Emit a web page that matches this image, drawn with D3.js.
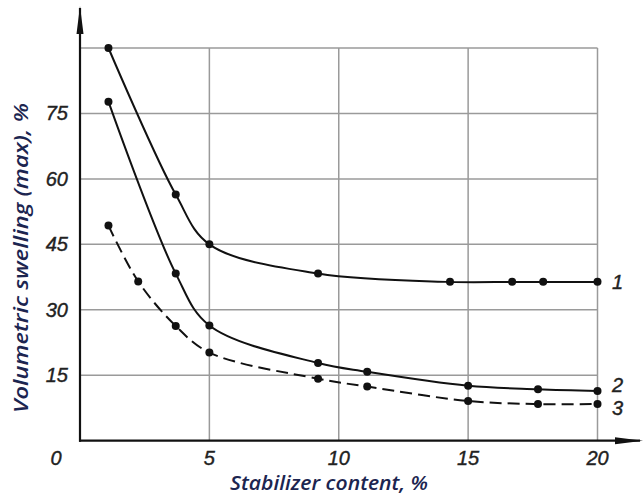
<!DOCTYPE html>
<html><head><meta charset="utf-8">
<script src="https://d3js.org/d3.v7.min.js"></script>
<style>body{margin:0;background:#fff}svg{display:block}</style>
</head><body>
<script>
const xTicks = [5, 10, 15, 20];
const yTicks = [15, 30, 45, 60, 75];
const yGrid = [15, 30, 45, 60, 75, 90];
const curve1 = [[1.1,90],[3.7,56.4],[5,45],[9.2,38.3],[14.3,36.4],[16.7,36.4],[17.9,36.4],[20,36.4]];
const curve2 = [[1.1,77.7],[3.7,38.3],[5,26.4],[9.2,17.8],[11.1,15.8],[15,12.6],[17.7,11.8],[20,11.4]];
const curve3 = [[1.1,49.3],[2.25,36.5],[3.7,26.3],[5,20.2],[9.2,14.2],[11.1,12.4],[15,9.1],[17.7,8.4],[20,8.4]];
const seriesLabels = ["1","2","3"];
const xTitle = "Stabilizer content, %";
const yTitle = "Volumetric swelling (max), %";

const W = 644, H = 497;
const svg = d3.select("body").append("svg").attr("width", W).attr("height", H);
const x = d3.scaleLinear().domain([0, 20]).range([80, 597.5]);
const y = d3.scaleLinear().domain([0, 90]).range([440.7, 48]);

// grid
const g = svg.append("g");
g.selectAll(".hg").data(yGrid).enter().append("line")
  .attr("x1", x(0)).attr("x2", x(20)).attr("y1", d => y(d)).attr("y2", d => y(d))
  .attr("stroke", "#9a9a9a").attr("stroke-width", 1.5);
g.selectAll(".vg").data(xTicks).enter().append("line")
  .attr("x1", d => x(d)).attr("x2", d => x(d)).attr("y1", y(0)).attr("y2", y(90))
  .attr("stroke", "#9a9a9a").attr("stroke-width", 1.5);

// axes
svg.append("line").attr("x1", x(0)).attr("x2", x(0)).attr("y1", y(0)+1).attr("y2", 8)
  .attr("stroke","#111").attr("stroke-width",2.2);
svg.append("path").attr("d", `M${x(0)-3.5},34 L${x(0)},6 L${x(0)+3.5},34 Z`).attr("fill","#111");
svg.append("line").attr("x1", x(0)-1).attr("x2", 640).attr("y1", y(0)).attr("y2", y(0))
  .attr("stroke","#111").attr("stroke-width",2.2);
svg.append("path").attr("d", `M615,${y(0)-3.5} L643,${y(0)} L615,${y(0)+3.5} Z`).attr("fill","#111");

// tick labels
const tickFont = "'Liberation Sans', Arial, sans-serif";
function tickStyle(sel) {
  sel.attr("font-family", tickFont).attr("font-style","italic").attr("font-size", 20)
    .attr("fill","#222").attr("stroke","#222").attr("stroke-width",0.4);
}
svg.selectAll(".yt").data(yTicks).enter().append("text")
  .attr("x", 68).attr("y", d => y(d)).attr("dy", "0.35em").attr("text-anchor","end")
  .call(tickStyle).text(d => d);
svg.selectAll(".xt").data(xTicks).enter().append("text")
  .attr("x", d => x(d)).attr("y", 465).attr("text-anchor","middle")
  .call(tickStyle).text(d => d);
svg.append("text").attr("x", 56).attr("y", 465).attr("text-anchor","middle")
  .call(tickStyle).text("0");

// titles
svg.append("text").attr("x", 230).attr("y", 490)
  .attr("textLength", 198).attr("lengthAdjust","spacingAndGlyphs")
  .attr("font-family","'Open Sans', sans-serif").attr("font-style","italic").attr("font-weight",600).attr("font-size",19)
  .attr("fill","#1c2550").text(xTitle);
svg.append("text").attr("transform","translate(28,413) rotate(-90)")
  .attr("textLength", 310).attr("lengthAdjust","spacingAndGlyphs")
  .attr("font-family","'Open Sans', sans-serif").attr("font-style","italic").attr("font-weight",600).attr("font-size",20)
  .attr("fill","#1c2550").text(yTitle);

// curves
const line = d3.line().x(d => x(d[0])).y(d => y(d[1])).curve(d3.curveCatmullRom.alpha(0.5));
const series = [curve1, curve2, curve3];
series.forEach((s, i) => {
  svg.append("path").datum(s).attr("d", line).attr("fill","none").attr("stroke","#111")
    .attr("stroke-width", 2).attr("stroke-dasharray", i === 2 ? "12,6" : null);
  svg.selectAll(".p"+i).data(s).enter().append("circle")
    .attr("cx", d => x(d[0])).attr("cy", d => y(d[1])).attr("r", 4).attr("fill","#111");
});
const labelPos = series.map(s => s[s.length-1]);
const labelDy = [0, -6, 4];
svg.selectAll(".sl").data(seriesLabels).enter().append("text")
  .attr("x", 612).attr("y", (d, i) => y(labelPos[i][1]) + labelDy[i]).attr("dy","0.35em")
  .call(tickStyle).text(d => d);
</script>
</body></html>
